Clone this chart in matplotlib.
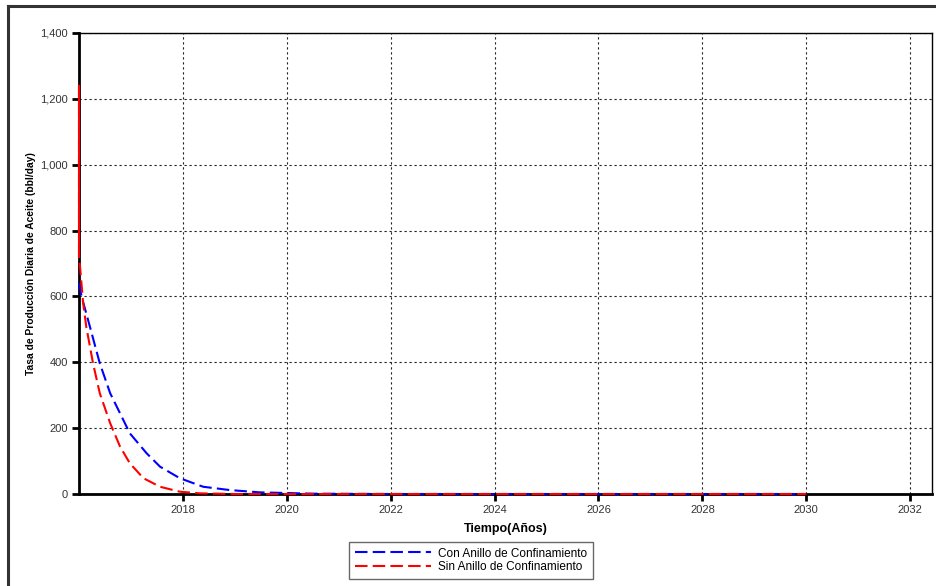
import matplotlib
matplotlib.use("Agg")
import matplotlib.pyplot as plt
from matplotlib.lines import Line2D
import numpy as np

# time in decimal years, rate in bbl/day
t_con = [2016.0, 2016.05, 2016.21, 2016.40, 2016.60, 2016.79, 2016.98, 2017.30,
         2017.56, 2017.94, 2018.39, 2018.9, 2019.48, 2020.0, 2020.5, 2022.0, 2026.0, 2030.0]
q_con = [640, 600, 508, 397, 306, 245, 184, 124, 83, 48, 22, 12, 5, 3, 1, 0, 0, 0]

t_sin = [2016.0, 2016.0, 2016.02, 2016.08, 2016.14, 2016.27, 2016.40, 2016.60, 2016.79,
         2016.98, 2017.24, 2017.56, 2017.94, 2018.33, 2019.0, 2022.0, 2026.0, 2030.0]
q_sin = [1240, 720, 690, 580, 508, 397, 306, 215, 144, 93, 48, 22, 7, 2, 0, 0, 0, 0]

labels = ["Con Anillo de Confinamiento", "Sin Anillo de Confinamiento"]
colors = ["#0000ff", "#ff0000"]

x_ticks = [2018, 2020, 2022, 2024, 2026, 2028, 2030, 2032]
y_ticks = [0, 200, 400, 600, 800, 1000, 1200, 1400]

plt.rcParams["font.family"] = ["Liberation Sans", "DejaVu Sans"]

fig = plt.figure(figsize=(9.37, 5.86), dpi=100)
W, H = 937, 586
ax = fig.add_axes([79 / W, 1 - 494 / H, (932 - 79) / W, (494 - 33) / H])

dash = (6, 2.5)
ax.plot(t_con, q_con, color=colors[0], lw=1.5, dashes=dash, label=labels[0],
        zorder=3, clip_on=False)
ax.plot(t_sin, q_sin, color=colors[1], lw=1.5, dashes=dash, label=labels[1],
        zorder=3, clip_on=False)
# initial drop of the red series is drawn as a solid stroke in the original
ax.plot(t_sin[:2], q_sin[:2], color=colors[1], lw=1.5, zorder=4, clip_on=False)

ax.set_xlim(2016.0, 2032.42)
ax.set_ylim(0, 1400)
ax.set_xticks(x_ticks)
ax.set_yticks(y_ticks)
ax.set_xticklabels([str(x) for x in x_ticks])
ax.set_yticklabels([f"{y:,}" for y in y_ticks])
ax.grid(True, color="#222222", ls=(0, (2, 2.5)), lw=0.8)
ax.tick_params(direction="out", length=5, width=2, labelsize=8, labelcolor="#333333",
               color="black", pad=3)
for side in ["left", "bottom"]:
    ax.spines[side].set_linewidth(2)
for side in ["top", "right"]:
    ax.spines[side].set_linewidth(1)

ax.set_xlabel("Tiempo(Años)", fontsize=9, fontweight="bold", labelpad=6)
ax.set_ylabel("Tasa de Producción Diaria de Aceite (bbl/day)", fontsize=7.4,
              fontweight="bold", labelpad=3)

handles = [Line2D([], [], color=c, lw=1.5, dashes=dash) for c in colors]
leg = fig.legend(handles, labels, loc="center", bbox_to_anchor=(471 / W, 1 - 560.5 / H),
                 fontsize=8.5, frameon=True, fancybox=False, edgecolor="#444444",
                 handlelength=6.5, borderpad=0.45, labelspacing=0.15, handletextpad=0.6)
leg.get_frame().set_linewidth(1)

# outer frame (top and left edges)
fig.add_artist(Line2D([8 / W, 1], [1 - 6 / H, 1 - 6 / H], color="#333333", lw=2.2,
                      transform=fig.transFigure))
fig.add_artist(Line2D([8 / W, 8 / W], [0, 1 - 6 / H], color="#333333", lw=2.2,
                      transform=fig.transFigure))

fig.savefig("out.png", dpi=100)
